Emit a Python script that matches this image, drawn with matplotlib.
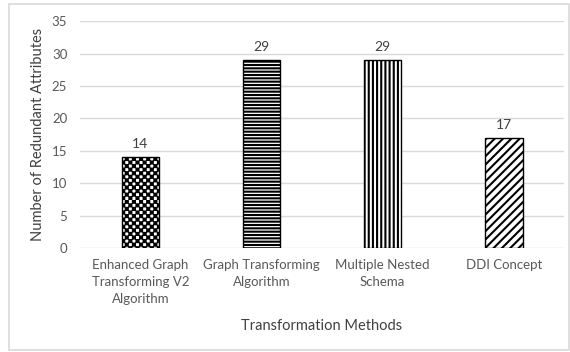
import warnings
import matplotlib
matplotlib.use("Agg")
import matplotlib.pyplot as plt
from matplotlib import hatch as mhatch
from matplotlib.path import Path
from matplotlib.patches import Rectangle

# data
methods = ["Enhanced Graph\nTransforming V2\nAlgorithm",
           "Graph Transforming\nAlgorithm",
           "Multiple Nested\nSchema",
           "DDI Concept"]
redundant = [14, 29, 29, 17]
yticks = [0, 5, 10, 15, 20, 25, 30, 35]


class CheckerHatch(mhatch.HatchPatternBase):
    """small checkerboard, used with the 'c' hatch char"""
    def __init__(self, hatch, density):
        self.cells = 28 if 'c' in hatch else 0
        self.num_vertices = 5 * (self.cells ** 2 // 2)

    def set_vertices_and_codes(self, vertices, codes):
        s = 1.0 / self.cells
        d = 0.0075  # shrink to make up for the hatch stroke
        k = 0
        for i in range(self.cells):
            for j in range(self.cells):
                if (i + j) % 2:
                    continue
                x0, y0 = i * s + d, j * s + d
                x1, y1 = (i + 1) * s - d, (j + 1) * s - d
                vertices[k:k + 5] = [(x0, y0), (x1, y0), (x1, y1), (x0, y1), (x0, y0)]
                codes[k:k + 5] = [Path.MOVETO, Path.LINETO, Path.LINETO,
                                  Path.LINETO, Path.CLOSEPOLY]
                k += 5


mhatch._hatch_types.append(CheckerHatch)
warnings.filterwarnings("ignore")

plt.rcParams['font.family'] = ['Lato', 'DejaVu Sans']
plt.rcParams['hatch.linewidth'] = 1.5
plt.rcParams['hatch.color'] = 'black'

fig = plt.figure(figsize=(5.7, 3.52), dpi=100)
ax = fig.add_axes([0.14, 0.295, 0.85, 0.645])

hatches = ['c', '-----', '||||', '////']
x = range(len(methods))
bars = ax.bar(x, redundant, width=0.31, color='white', edgecolor='black',
              linewidth=1.0, zorder=3)
for b, h in zip(bars, hatches):
    b.set_hatch(h)

for xi, v in zip(x, redundant):
    ax.annotate(str(v), (xi, v), xytext=(0, 5), textcoords='offset points',
                ha='center', va='bottom', fontsize=10, color='#404040')

ax.set_ylim(0, 35)
ax.set_xlim(-0.5, len(methods) - 0.5)
ax.set_yticks(yticks)
ax.set_xticks(list(x))
ax.set_xticklabels(methods, fontsize=9.5, color='#595959', linespacing=1.5)
ax.tick_params(axis='y', labelsize=9.5, labelcolor='#595959', length=0, pad=9)
ax.tick_params(axis='x', length=0, pad=8)
ax.yaxis.grid(True, color='#d9d9d9', linewidth=1.0, zorder=0)
ax.set_axisbelow(True)
for s in ax.spines.values():
    s.set_visible(False)

ax.set_ylabel('Number of Redundant Attributes', fontsize=10.5, color='#404040',
              labelpad=5)
ax.set_xlabel('Transformation Methods', fontsize=10.5, color='#404040', labelpad=10)

# light frame round the chart, like the spreadsheet chart area
fig.patches.append(Rectangle((0.016, 0.005), 0.982, 0.983, transform=fig.transFigure,
                             fill=False, edgecolor='#d9d9d9', linewidth=1.2))

fig.savefig('out.png', dpi=100)
